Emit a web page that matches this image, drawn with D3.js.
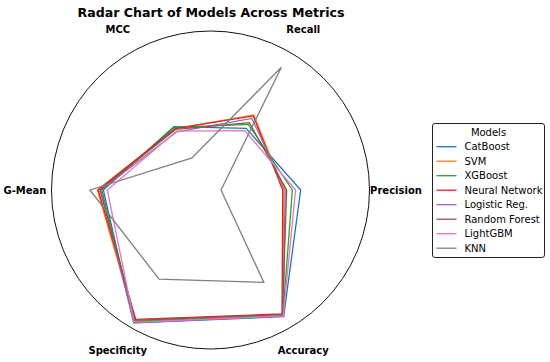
<!DOCTYPE html>
<html>
<head>
<meta charset="utf-8">
<script src="https://cdn.jsdelivr.net/npm/d3@7"></script>
<style>
  body { margin: 0; background: #fff; }
  text { font-family: "DejaVu Sans", sans-serif; }
</style>
</head>
<body>
<div id="chart"></div>
<script>
// metrics around the circle, counter-clockwise from the right
var metrics = ["Precision", "Recall", "MCC", "G-Mean", "Specificity", "Accuracy"];

var models = ["CatBoost", "SVM", "XGBoost", "Neural Network", "Logistic Reg.", "Random Forest", "LightGBM", "KNN"];
var colors = ["#1f77b4", "#ff7f0e", "#2ca02c", "#d62728", "#9467bd", "#8c564b", "#e377c2", "#7f7f7f"];

// values (same order as metrics)
var catboost     = [0.567, 0.448, 0.460, 0.674, 0.965, 0.920];
var svm          = [0.462, 0.545, 0.445, 0.712, 0.950, 0.905];
var xgboost      = [0.515, 0.477, 0.455, 0.684, 0.955, 0.910];
var neuralNet    = [0.454, 0.538, 0.445, 0.706, 0.940, 0.900];
var logistic     = [0.470, 0.520, 0.423, 0.689, 0.965, 0.915];
var randomForest = [0.479, 0.489, 0.440, 0.695, 0.945, 0.905];
var lightgbm     = [0.535, 0.431, 0.428, 0.649, 0.960, 0.915];
var knn          = [0.066, 0.892, 0.233, 0.758, 0.647, 0.671];

var series = [catboost, svm, xgboost, neuralNet, logistic, randomForest, lightgbm, knn];

var width = 550, height = 362;
var cx = 210.5, cy = 190, radius = 159;

var svg = d3.select("#chart").append("svg")
    .attr("width", width)
    .attr("height", height);

var g = svg.append("g")
    .attr("transform", "translate(" + cx + "," + cy + ")");

var r = d3.scaleLinear().domain([0, 1]).range([0, radius]);
// d3 radial angles go clockwise from 12 o'clock; matplotlib goes ccw from 3 o'clock
var angle = d3.scaleLinear().domain([0, metrics.length]).range([Math.PI / 2, Math.PI / 2 - 2 * Math.PI]);

// outer circle (polar spine)
g.append("circle")
    .attr("r", radius)
    .attr("fill", "none")
    .attr("stroke", "#111")
    .attr("stroke-width", 1);

var line = d3.lineRadial()
    .angle(function (d, i) { return angle(i); })
    .radius(function (d) { return r(d); })
    .curve(d3.curveLinearClosed);

g.selectAll(".model")
    .data(series)
    .enter()
    .append("path")
    .attr("class", "model")
    .attr("d", line)
    .attr("fill", "none")
    .attr("stroke", function (d, i) { return colors[i]; })
    .attr("stroke-width", 1.3)
    .attr("stroke-linejoin", "miter");

// metric labels, centered just outside the circle
var labelR = 185.5;
g.selectAll(".metric")
    .data(metrics)
    .enter()
    .append("text")
    .attr("class", "metric")
    .attr("x", function (d, i) { return labelR * Math.sin(angle(i)); })
    .attr("y", function (d, i) { return -labelR * Math.cos(angle(i)); })
    .attr("text-anchor", "middle")
    .attr("dominant-baseline", "central")
    .attr("font-size", "10px")
    .attr("font-weight", "bold")
    .text(function (d) { return d; });

svg.append("text")
    .attr("x", 211)
    .attr("y", 17)
    .attr("text-anchor", "middle")
    .attr("font-size", "12.6px")
    .attr("font-weight", "bold")
    .text("Radar Chart of Models Across Metrics");

// legend
var legend = svg.append("g").attr("transform", "translate(432.5,123.5)");
legend.append("rect")
    .attr("width", 112)
    .attr("height", 134)
    .attr("rx", 2.5)
    .attr("fill", "#fff")
    .attr("stroke", "#222")
    .attr("stroke-width", 1);

legend.append("text")
    .attr("x", 56)
    .attr("y", 8.5)
    .attr("text-anchor", "middle")
    .attr("dominant-baseline", "central")
    .attr("font-size", "10px")
    .text("Models");

var items = legend.selectAll(".item")
    .data(models)
    .enter()
    .append("g")
    .attr("class", "item")
    .attr("transform", function (d, i) { return "translate(0," + (23.2 + i * 14.5) + ")"; });

items.append("line")
    .attr("x1", 4).attr("x2", 24)
    .attr("stroke", function (d, i) { return colors[i]; })
    .attr("stroke-width", 1.3);

items.append("text")
    .attr("x", 32)
    .attr("dominant-baseline", "central")
    .attr("font-size", "10px")
    .text(function (d) { return d; });
</script>
</body>
</html>
